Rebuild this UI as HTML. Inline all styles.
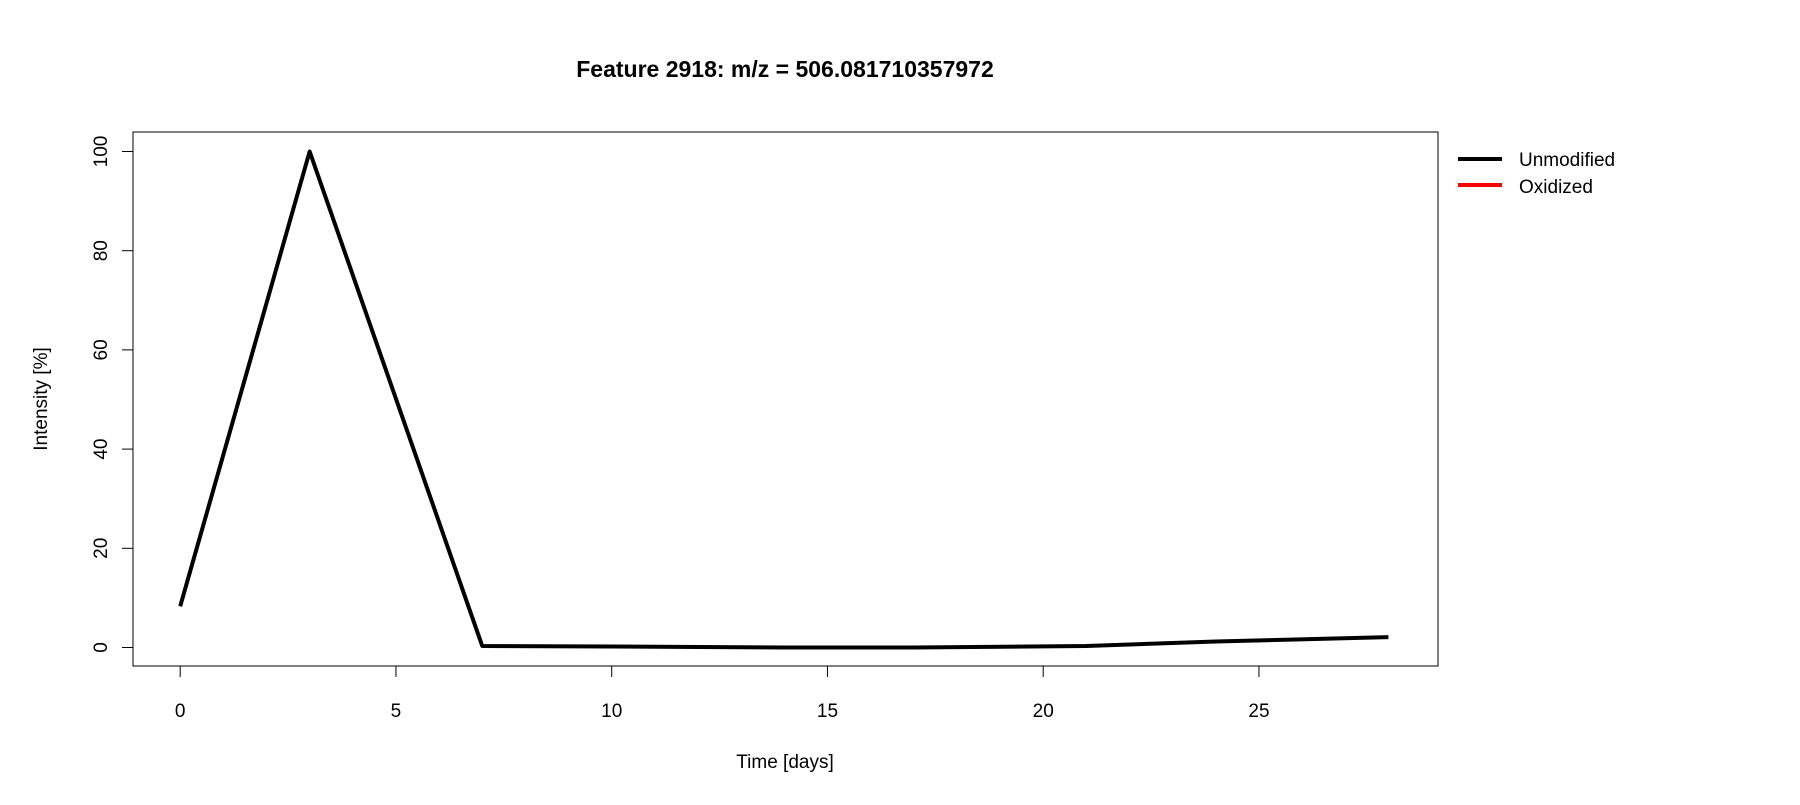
<!DOCTYPE html>
<html><head><meta charset="utf-8"><style>
body{margin:0;background:#fff}
svg text{font-family:"Liberation Sans",Arial,sans-serif}
</style></head><body>
<svg id="chart" width="1800" height="800" xmlns="http://www.w3.org/2000/svg">
<rect width="1800" height="800" fill="#fff"/>
<text x="785" y="77" text-anchor="middle" font-size="23" font-weight="bold">Feature 2918: m/z = 506.081710357972</text>
<rect x="133" y="132" width="1305" height="534" fill="none" stroke="#000" stroke-width="1"/>
<g id="xaxis"></g>
<g id="yaxis"></g>
<text x="785" y="768" text-anchor="middle" font-size="19">Time [days]</text>
<text transform="translate(47,399) rotate(-90)" text-anchor="middle" font-size="19">Intensity [%]</text>
<g id="series"></g>
<g>
<line x1="1458" y1="159" x2="1502" y2="159" stroke="#000" stroke-width="4"/>
<text x="1519" y="166" font-size="19">Unmodified</text>
<line x1="1458" y1="185" x2="1502" y2="185" stroke="#f00" stroke-width="4"/>
<text x="1519" y="193" font-size="19">Oxidized</text>
</g>
</svg>
<script>
const days = [0, 3, 7, 10, 14, 17, 21, 24, 28];
const unmodified = [8.3, 100, 0.3, 0.2, 0, 0, 0.3, 1.2, 2.1];
const xTicks = [0, 5, 10, 15, 20, 25];
const yTicks = [0, 20, 40, 60, 80, 100];
const NS = "http://www.w3.org/2000/svg";
function xs(v){return 180.2 + v*43.15;}
function ys(v){return 647.5 - v*4.96;}
function mk(tag, attrs, parent){const e=document.createElementNS(NS,tag);for(const k in attrs)e.setAttribute(k,attrs[k]);parent.appendChild(e);return e;}
const xa=document.getElementById('xaxis'), ya=document.getElementById('yaxis'), sg=document.getElementById('series');
mk('line',{x1:xs(xTicks[0]),x2:xs(xTicks[xTicks.length-1]),y1:666,y2:666,stroke:'#000'},xa);
xTicks.forEach(t=>{
  const l=mk('line',{x1:xs(t),x2:xs(t),y1:666,y2:677,stroke:'#000'},xa);
  
  
  const tx=mk('text',{x:xs(t),y:717,'text-anchor':'middle','font-size':'19'},xa);
  tx.textContent=t;
  
  
});
mk('line',{x1:133,x2:133,y1:ys(yTicks[0]),y2:ys(yTicks[yTicks.length-1]),stroke:'#000'},ya);
yTicks.forEach(t=>{
  const l=mk('line',{x1:122,x2:133,y1:ys(t),y2:ys(t),stroke:'#000'},ya);
  
  
  const tx=mk('text',{transform:`translate(107,${ys(t)}) rotate(-90)`,'text-anchor':'middle','font-size':'19'},ya);
  tx.textContent=t;
  
  
});
const pl=mk('polyline',{points:days.map((d,i)=>xs(d)+','+ys(unmodified[i])).join(' '),fill:'none',stroke:'#000','stroke-width':'4','stroke-linejoin':'round'},sg);


</script>
</body></html>
